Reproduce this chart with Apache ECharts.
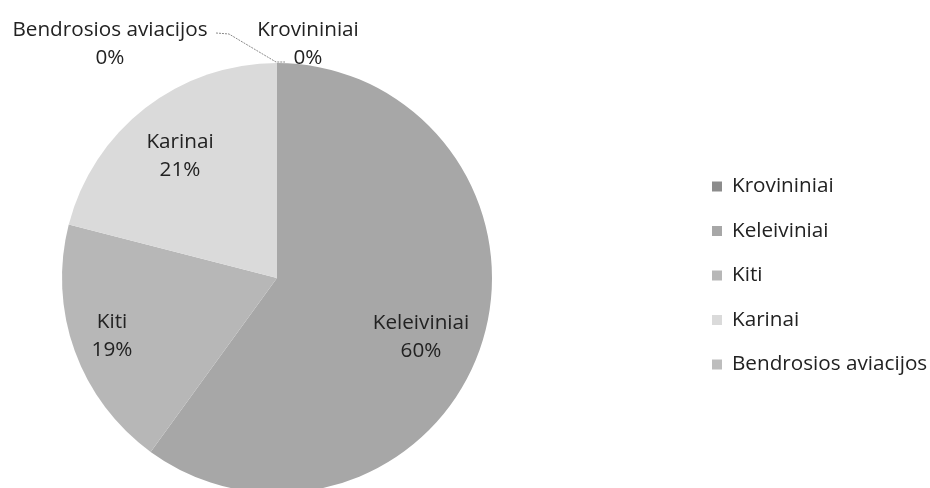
<!DOCTYPE html>
<html>
<head>
<meta charset="utf-8">
<script src="https://cdn.jsdelivr.net/npm/echarts@6/dist/echarts.min.js"></script>
<style>
  html, body { margin: 0; padding: 0; background: #fff; }
  #chart { width: 930px; height: 488px; }
</style>
</head>
<body>
<div id="chart"></div>
<script>
// Aircraft types pie — clockwise from 12 o'clock, as in the source sheet.
const categories = ["Krovininiai", "Keleiviniai", "Kiti", "Karinai", "Bendrosios aviacijos"];
const shares = [0, 60, 19, 21, 0];
const sliceColors = ["#8c8c8c", "#a7a7a7", "#b7b7b7", "#dadada", "#bdbdbd"];

// where Excel's "best fit" put each data label (label anchors, not marks)
const labelSpots = [
  [308, 44], [421, 337], [112, 336], [180, 156], [110, 44]
];

const FONT = "Open Sans";
const chart = echarts.init(document.getElementById("chart"));

chart.setOption({
  animation: false,
  legend: {
    orient: "vertical",
    left: 707,
    top: 170.5,
    itemWidth: 10,
    itemHeight: 10,
    itemGap: 22.5,
    icon: "rect",
    textStyle: { fontFamily: FONT, fontSize: 20.7, lineHeight: 22, color: "#222", padding: [0, 0, 0, 5] },
    data: categories
  },
  series: [{
    type: "pie",
    center: [277, 278],
    radius: 215,
    startAngle: 90,
    clockwise: true,
    minAngle: 0,
    avoidLabelOverlap: false,
    stillShowZeroSum: true,
    itemStyle: { borderWidth: 0 },
    label: {
      show: true,
      position: "inside",
      formatter: "{b}\n{d}%",
      fontFamily: FONT,
      fontSize: 20.7,
      lineHeight: 28,
      color: "#222",
      align: "center"
    },
    labelLine: { show: false },
    labelLayout: (p) => ({
      x: labelSpots[p.dataIndex][0],
      y: labelSpots[p.dataIndex][1],
      align: "center",
      verticalAlign: "middle"
    }),
    data: categories.map((name, i) => ({
      name,
      value: shares[i],
      itemStyle: { color: sliceColors[i] }
    }))
  }],
  graphic: [{
    // leader from the zero-share "Bendrosios aviacijos" label to the slice
    type: "polyline",
    shape: { points: [[216, 33], [229, 34], [276, 62], [285, 62]] },
    style: { stroke: "#8a8a8a", lineWidth: 1, lineDash: [2, 1], fill: null }
  }]
});
</script>
</body>
</html>
